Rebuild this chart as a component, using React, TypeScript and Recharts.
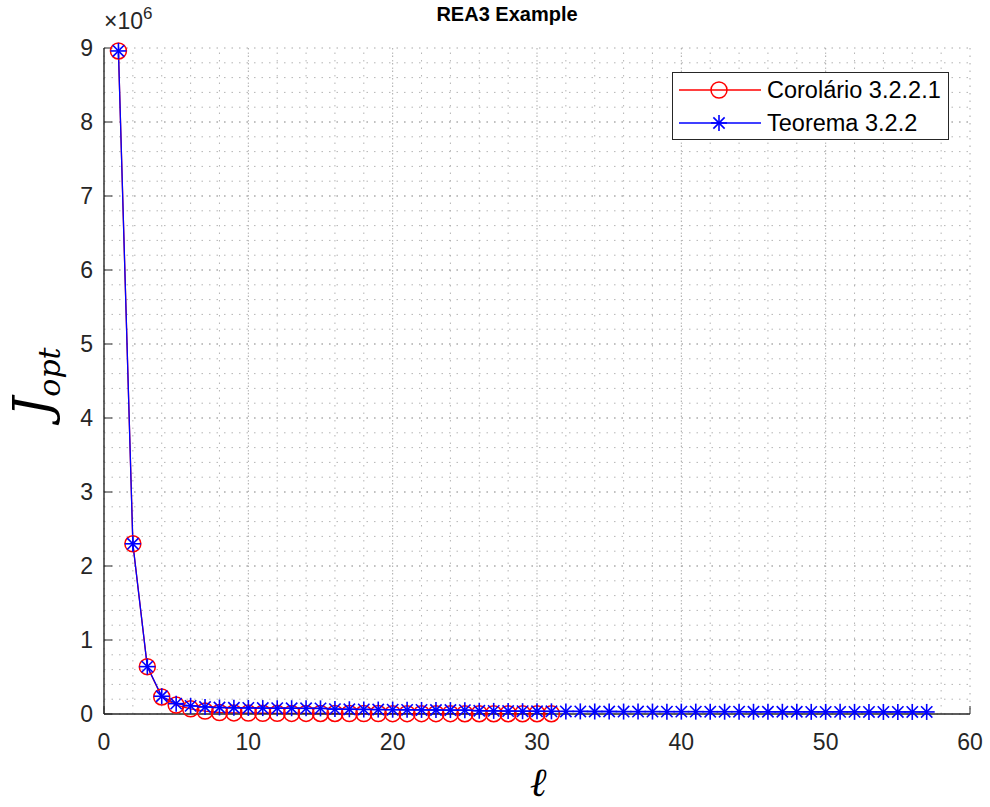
import { LineChart, Line, XAxis, YAxis, CartesianGrid, ReferenceLine } from 'recharts';

// ℓ values (iterations)
const ell = [
  1, 2, 3, 4, 5, 6, 7, 8, 9, 10, 11, 12, 13, 14, 15, 16, 17, 18, 19, 20,
  21, 22, 23, 24, 25, 26, 27, 28, 29, 30, 31, 32, 33, 34, 35, 36, 37, 38, 39, 40,
  41, 42, 43, 44, 45, 46, 47, 48, 49, 50, 51, 52, 53, 54, 55, 56, 57,
];

// Corolário 3.2.2.1 (ℓ = 1..31)
const corolario = [
  8960000, 2300000, 640000, 230000, 120000, 70000, 40000, 20000, 15000, 12000,
  10000, 9000, 8000, 8000, 7000, 7000, 6000, 6000, 6000, 5000,
  5000, 5000, 5000, 5000, 4000, 4000, 4000, 4000, 4000, 4000, 4000,
];

// Teorema 3.2.2 (ℓ = 1..57)
const teorema = [
  8960000, 2300000, 640000, 240000, 140000, 110000, 95000, 88000, 84000, 82000,
  80000, 79000, 78000, 77000, 76000, 66000, 64000, 62000, 60000, 58000,
  56000, 55000, 54000, 53000, 52000, 44000, 42000, 40000, 38000, 37000,
  36000, 35000, 35000, 34000, 34000, 33000, 33000, 33000, 32000, 32000,
  32000, 31000, 31000, 31000, 30000, 30000, 30000, 30000, 29000, 29000,
  29000, 29000, 28000, 28000, 28000, 28000, 28000,
];

const seriesNames = ['Corolário 3.2.2.1', 'Teorema 3.2.2'];
const seriesColors = ['#ff0000', '#0000ff'];

const xTicks = [0, 10, 20, 30, 40, 50, 60];
const yTicks = [0, 1e6, 2e6, 3e6, 4e6, 5e6, 6e6, 7e6, 8e6, 9e6];
const xMinor = Array.from({ length: 29 }, (_, i) => (i + 1) * 2);
const yMinor = Array.from({ length: 44 }, (_, i) => (i + 1) * 200000);

const data = ell.map((l, i) => ({
  ell: l,
  corolario: i < corolario.length ? corolario[i] : null,
  teorema: teorema[i],
}));

const AXIS = '#262626';
const GRID = '#a8a8a8';
const FONT = '"Liberation Sans", Arial, Helvetica, sans-serif';
const tickStyle = { fill: AXIS, fontSize: 23, fontFamily: FONT };

const CircleDot = (props: any) => {
  const { cx, cy } = props;
  if (cx == null || cy == null) return null;
  return <circle key={`c-${cx}`} cx={cx} cy={cy} r={8} fill="none" stroke="#ff0000" strokeWidth={1.5} />;
};

const StarDot = (props: any) => {
  const { cx, cy } = props;
  if (cx == null || cy == null) return null;
  const r = 8;
  const d = r * 0.707;
  return (
    <g key={`s-${cx}`} stroke="#0000ff" strokeWidth={1.6}>
      <line x1={cx - r} y1={cy} x2={cx + r} y2={cy} />
      <line x1={cx} y1={cy - r} x2={cx} y2={cy + r} />
      <line x1={cx - d} y1={cy - d} x2={cx + d} y2={cy + d} />
      <line x1={cx - d} y1={cy + d} x2={cx + d} y2={cy - d} />
    </g>
  );
};

const noTick = () => <g />;

export default function App() {
  return (
    <div style={{ position: 'absolute', left: 0, top: 0, width: 990, height: 807, background: '#fff', fontFamily: FONT }}>
      <LineChart width={990} height={807} data={data} margin={{ top: 48, right: 20, bottom: 43, left: 44 }}>
        <CartesianGrid stroke={GRID} strokeDasharray="1.5 6" />
        {xMinor.map(v => (
          <ReferenceLine key={`xm${v}`} x={v} stroke={GRID} strokeDasharray="1.5 6" strokeOpacity={0.85} />
        ))}
        {yMinor.map(v => (
          <ReferenceLine key={`ym${v}`} y={v} stroke={GRID} strokeDasharray="1.5 6" strokeOpacity={0.85} />
        ))}
        <XAxis
          dataKey="ell" type="number" domain={[0, 60]} ticks={xTicks} interval={0}
          height={50} tickSize={-8} tickMargin={28}
          stroke={AXIS} tick={tickStyle} axisLine={{ stroke: AXIS, strokeWidth: 1.4 }}
        />
        <XAxis
          xAxisId="top" orientation="top" dataKey="ell" type="number" domain={[0, 60]} ticks={xTicks}
          height={0} tickSize={-8} tick={noTick} axisLine={{ stroke: AXIS, strokeWidth: 1.4 }} stroke={AXIS}
        />
        <YAxis
          type="number" domain={[0, 9e6]} ticks={yTicks} interval={0} width={60}
          tickSize={-8} tickMargin={19} tick={tickStyle}
          tickFormatter={(v: number) => String(v / 1e6)}
          stroke={AXIS} axisLine={{ stroke: AXIS, strokeWidth: 1.4 }}
        />
        <YAxis
          yAxisId="right" orientation="right" type="number" domain={[0, 9e6]} ticks={yTicks}
          width={0} tickSize={-8} tick={noTick} stroke={AXIS} axisLine={{ stroke: AXIS, strokeWidth: 1.4 }}
        />
        <Line
          dataKey="corolario" stroke={seriesColors[0]} strokeWidth={1.3} dot={CircleDot}
          activeDot={false} isAnimationActive={false} connectNulls={false}
        />
        <Line
          dataKey="teorema" stroke={seriesColors[1]} strokeWidth={1.3} dot={StarDot}
          activeDot={false} isAnimationActive={false}
        />
      </LineChart>

      {/* title */}
      <div style={{ position: 'absolute', left: 387, width: 240, top: 3, textAlign: 'center', fontWeight: 'bold', fontSize: 20, color: '#000' }}>
        REA3 Example
      </div>

      {/* exponent */}
      <div style={{ position: 'absolute', left: 104, top: 10, fontSize: 23, color: AXIS, whiteSpace: 'nowrap', lineHeight: 1 }}>
        ×10<span style={{ fontSize: 17, position: 'relative', top: -10 }}>6</span>
      </div>

      {/* y label */}
      <div
        style={{
          position: 'absolute', left: 36, top: 382, transform: 'translate(-50%, -50%) rotate(-90deg)',
          fontFamily: '"DejaVu Serif", "Liberation Serif", serif', fontStyle: 'italic', fontSize: 50,
          whiteSpace: 'nowrap', color: '#000', lineHeight: 1,
        }}
      >
        J<sub style={{ fontSize: 30 }}>opt</sub>
      </div>

      {/* x label */}
      <div
        style={{
          position: 'absolute', left: 538, top: 782, transform: 'translate(-50%, -50%)',
          fontFamily: '"DejaVu Serif", "Liberation Serif", serif', fontStyle: 'italic', fontSize: 40,
          color: '#000', lineHeight: 1,
        }}
      >
        ℓ
      </div>

      {/* legend */}
      <div
        style={{
          position: 'absolute', left: 672, top: 72, width: 277, height: 68, boxSizing: 'border-box',
          border: `1.4px solid ${AXIS}`, background: '#fff',
        }}
      >
        {seriesNames.map((name, i) => (
          <div key={name} style={{ position: 'absolute', left: 0, top: 2 + i * 33, height: 30, display: 'flex', alignItems: 'center' }}>
            <svg width={94} height={30} style={{ display: 'block' }}>
              <line x1={6} y1={15} x2={88} y2={15} stroke={seriesColors[i]} strokeWidth={1.3} />
              {i === 0 ? CircleDot({ cx: 46, cy: 15 }) : StarDot({ cx: 46, cy: 15 })}
            </svg>
            <span style={{ fontSize: 23.5, color: '#000', whiteSpace: 'nowrap' }}>{name}</span>
          </div>
        ))}
      </div>
    </div>
  );
}
